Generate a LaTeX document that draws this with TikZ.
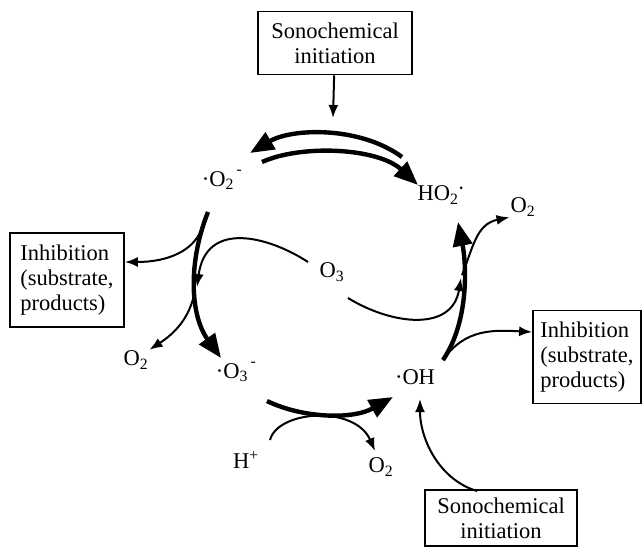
\documentclass[tikz,border=0pt]{standalone}
\usepackage{fontspec}
\setmainfont{Liberation Serif}
\usetikzlibrary{arrows.meta}

\begin{document}
\begin{tikzpicture}[x=1pt, y=-1pt,
		font=\fontsize{22.5}{25}\selectfont,
		box/.style={draw, line width=1.8pt, inner sep=2pt},
		sp/.style={inner sep=1pt},
		thk/.style={line width=4.4pt, -{Triangle[length=24pt, width=19pt]}},
		thn/.style={line width=2pt, -{Latex[length=13pt, width=10pt]}}]
		\useasboundingbox (0,0) rectangle (642,546);

		\node[box, minimum width=154, minimum height=63, align=center] (SI1) at (335,43) {Sonochemical\\initiation};
		\node[box, minimum width=152, minimum height=56, align=center] (SI2) at (501,518) {Sonochemical\\initiation};
		\node[box, minimum width=114, minimum height=94, align=left] (InhL) at (67,280) {Inhibition\\(substrate,\\products)};
		\node[box, minimum width=108, minimum height=93, align=left] (InhR) at (587,357) {Inhibition\\(substrate,\\products)};

		\node[sp] (O2m) at (222,180) {·O\textsubscript{2}\raisebox{4pt}{\textsuperscript{\,-}}};
		\node[sp] (HO2) at (441,195) {HO\textsubscript{2}\textsuperscript{\textbf{·}}};
		\node[sp] (O2a) at (523,207) {O\textsubscript{2}};
		\node[sp] (O3) at (332,272) {O\textsubscript{3}};
		\node[sp] (O2b) at (136,360) {O\textsubscript{2}};
		\node[sp] (O3m) at (236,372) {·O\textsubscript{3}\raisebox{4pt}{\textsuperscript{\,-}}};
		\node[sp] (OH) at (415,377) {·OH};
		\node[sp] (Hp) at (246,460) {H\textsuperscript{+}};
		\node[sp] (O2c) at (381,467) {O\textsubscript{2}};

		% free ends of the connectors
		\coordinate (topin) at (333,118);
		\coordinate (outA) at (402,157);
		\coordinate (outB) at (250,153);
		\coordinate (inA) at (262,162);
		\coordinate (inB) at (418,185);
		\coordinate (lA) at (208,212);
		\coordinate (lB) at (221,358);
		\coordinate (lC) at (204,222);
		\coordinate (lD) at (195,290);
		\coordinate (oA) at (308,262);
		\coordinate (oB) at (197,287);
		\coordinate (oC) at (348,298);
		\coordinate (oD) at (461,278);
		\coordinate (rA) at (443,360);
		\coordinate (rB) at (458,222);
		\coordinate (rC) at (462,275);
		\coordinate (bA) at (267,401);
		\coordinate (bB) at (393,397);
		\coordinate (hA) at (270,440);
		\coordinate (hB) at (375,451);
		\coordinate (sA) at (477,491);
		\coordinate (sB) at (420,399);

		\draw[thn] (SI1) -- (topin);
		\draw[thk] (outA) .. controls (360,126) and (292,128) .. (outB);
		\draw[thk] (inA) .. controls (302,144) and (378,148) .. (inB);

		\draw[thk] (lA) .. controls (188,262) and (190,315) .. (lB);
		\draw[thn] (lC) .. controls (197,252) and (166,262) .. (InhL.east |- 0,262);
		\draw[thn] (lD) .. controls (190,320) and (172,335) .. (O2b.north east);
		\draw[thn] (oA) .. controls (268,236) and (206,220) .. (oB);
		\draw[thn] (oC) .. controls (392,325) and (452,332) .. (oD);

		\draw[thk] (rA) .. controls (470,320) and (466,262) .. (rB);
		\draw[thn] (rC) .. controls (473,248) and (476,224) .. (O2a.south west);
		\draw[thn] (rA) .. controls (465,328) and (495,330) .. (InhR.west |- 0,332);

		\draw[thk] (bA) .. controls (302,418) and (352,420) .. (bB);
		\draw[thn] (hA) .. controls (278,410) and (355,405) .. (hB);
		\draw[thn] (sA) .. controls (440,480) and (420,440) .. (sB);
	\end{tikzpicture}
\end{document}
